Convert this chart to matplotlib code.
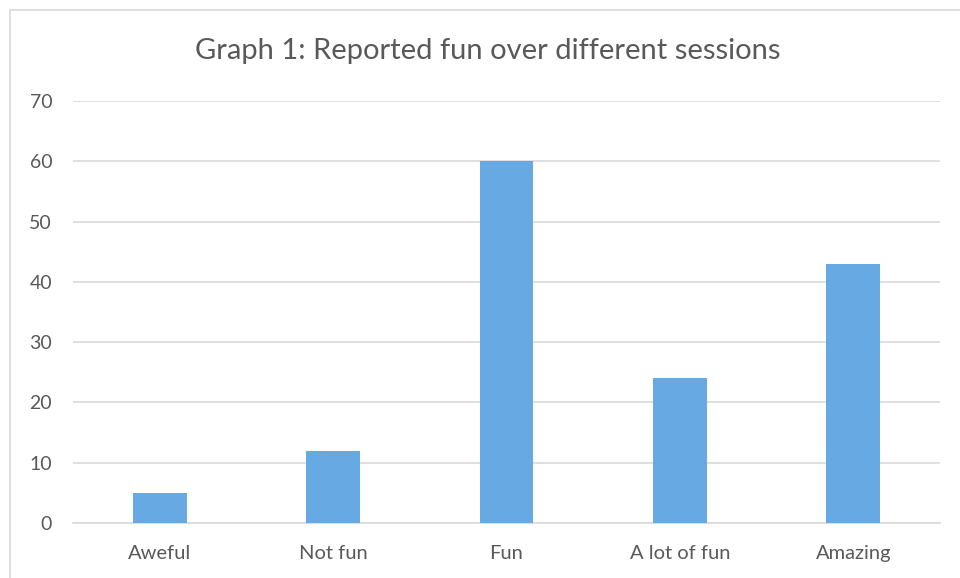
import matplotlib.pyplot as plt
from matplotlib.patches import Rectangle

categories = ['Aweful', 'Not fun', 'Fun', 'A lot of fun', 'Amazing']
values = [5, 12, 60, 24, 43]
yticks = [0, 10, 20, 30, 40, 50, 60, 70]

text_col = '#595959'
grid_col = '#D9D9D9'
bar_col = '#67A9E3'

plt.rcParams['font.family'] = ['Lato', 'DejaVu Sans']

fig = plt.figure(figsize=(9.6, 5.78), dpi=100)
ax = fig.add_axes([73 / 960, 55 / 578, 867 / 960, 422 / 578])

# outer chart border (only left and top visible in the crop)
fig.patches.append(Rectangle((9.5 / 960, -0.2), 1.5, 1.2 - 9.5 / 578,
                             transform=fig.transFigure, fill=False,
                             edgecolor=grid_col, linewidth=1.2))

x = list(range(len(categories)))
ax.bar(x, values, width=0.31, color=bar_col, zorder=3)

ax.set_xlim(-0.5, len(categories) - 0.5)
ax.set_ylim(0, 70)
ax.set_yticks(yticks)
ax.set_xticks(x)
ax.set_xticklabels(categories)
ax.yaxis.grid(True, color=grid_col, linewidth=1.2, zorder=0)
ax.set_axisbelow(True)
for s in ['left', 'right', 'top']:
    ax.spines[s].set_visible(False)
ax.spines['bottom'].set_color(grid_col)
ax.spines['bottom'].set_linewidth(1.2)
ax.tick_params(axis='both', length=0, labelsize=14.5, colors=text_col)
ax.tick_params(axis='y', pad=15, labelsize=14)
ax.tick_params(axis='x', pad=16)

fig.text(488 / 960, 1 - 51 / 578, 'Graph 1: Reported fun over different sessions',
         ha='center', va='center', fontsize=21, color=text_col)

fig.savefig('out.png', dpi=100)
